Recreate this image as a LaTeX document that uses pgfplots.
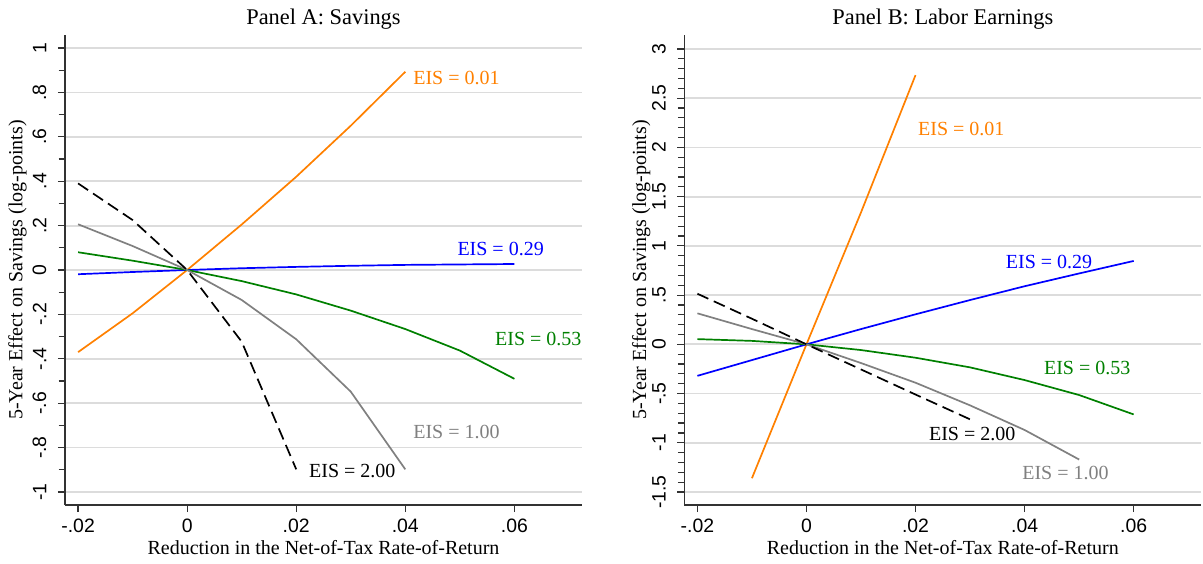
\documentclass[border=0pt]{standalone}
\usepackage{fontspec}
\setmainfont{Liberation Serif}
\newfontfamily\ticksf{Liberation Sans}
\usepackage{pgfplots}
\pgfplotsset{compat=1.18}

\definecolor{cOrange}{RGB}{255,128,0}
\definecolor{cBlue}{RGB}{0,0,255}
\definecolor{cGreen}{RGB}{0,128,0}
\definecolor{cGray}{RGB}{128,128,128}
\definecolor{cGrid}{RGB}{220,220,220}
\definecolor{cAxis}{RGB}{50,50,50}

\tikzset{lbl/.style={anchor=west, inner sep=0pt, font=\fontsize{10}{12}\selectfont}}

\pgfplotsset{
  statapanel/.style={
    scale only axis,
    width=258.5pt, height=235pt,
    xmin=-0.0224, xmax=0.0724,
    axis x line*=bottom, axis y line*=left,
    axis line style={cAxis, line width=0.6pt},
    tick style={cAxis, line width=0.6pt},
    tick align=outside,
    major tick length=3.6pt, minor tick length=3.2pt,
    xtick={-0.02,0,0.02,0.04,0.06},
    xticklabels={-.02,0,.02,.04,.06},
    scaled x ticks=false, scaled y ticks=false,
    ymajorgrids,
    major grid style={cGrid, line width=0.9pt},
    ticklabel style={font=\ticksf\fontsize{9.7}{11}\selectfont},
    yticklabel style={rotate=90, anchor=south, inner sep=0pt},
    xticklabel style={anchor=north, inner sep=0pt},
    xticklabel shift=3pt,
    yticklabel shift=5.5pt,
    every axis title shift=0pt,
    title style={font=\fontsize{11.2}{13}\selectfont, at={(0.5,1)}, anchor=base, yshift=5pt},
    xlabel={Reduction in the Net-of-Tax Rate-of-Return},
    ylabel={5-Year Effect on Savings (log-points)},
    label style={font=\fontsize{10}{12}\selectfont},
    xlabel style={at={([yshift=-24.5pt]axis description cs:0.5,0)}, anchor=base},
    clip=false,
    every axis plot/.append style={line width=0.85pt, mark=none},
  }
}

\begin{document}
\begin{tikzpicture}
% Panel A
\begin{axis}[statapanel,
  title={Panel A: Savings},
  ymin=-1.0586, ymax=1.0586,
  ytick={-1,-0.8,-0.6,-0.4,-0.2,0,0.2,0.4,0.6,0.8,1},
  yticklabels={-1,-.8,-.6,-.4,-.2,0,.2,.4,.6,.8,1},
  minor y tick num=1,
  ylabel style={at={([xshift=-23.75pt]axis description cs:0,0.5)}, rotate=0, anchor=center},
]
\addplot[cOrange] coordinates {(-0.02,-0.37) (-0.01,-0.195) (0,0) (0.01,0.205) (0.02,0.42) (0.03,0.65) (0.04,0.893)};
\addplot[cBlue] coordinates {(-0.02,-0.019) (-0.01,-0.009) (0,0) (0.01,0.008) (0.02,0.014) (0.03,0.019) (0.04,0.023) (0.05,0.025) (0.06,0.027)};
\addplot[cGreen] coordinates {(-0.02,0.08) (-0.01,0.042) (0,0) (0.01,-0.05) (0.02,-0.11) (0.03,-0.183) (0.04,-0.266) (0.05,-0.363) (0.06,-0.49)};
\addplot[cGray] coordinates {(-0.02,0.206) (-0.01,0.108) (0,0) (0.01,-0.135) (0.02,-0.312) (0.03,-0.548) (0.04,-0.898)};
\addplot[black, dash pattern=on 6pt off 3pt] coordinates {(-0.02,0.39) (-0.01,0.225) (0,0) (0.01,-0.323) (0.02,-0.898)};
\node[lbl, cOrange] at (axis cs:0.0414,0.864) {EIS = 0.01};
\node[lbl, cBlue] at (axis cs:0.0495,0.095) {EIS = 0.29};
\node[lbl, cGreen] at (axis cs:0.0564,-0.311) {EIS = 0.53};
\node[lbl, cGray] at (axis cs:0.0414,-0.728) {EIS = 1.00};
\node[lbl, black] at (axis cs:0.0223,-0.904) {EIS = 2.00};
\end{axis}

% Panel B
\begin{axis}[statapanel, at={(309.65pt,0)},
  title={Panel B: Labor Earnings},
  ymin=-1.632, ymax=3.142,
  ytick={-1.5,-1,-0.5,0,0.5,1,1.5,2,2.5,3},
  yticklabels={-1.5,-1,-.5,0,.5,1,1.5,2,2.5,3},
  minor y tick num=4,
  ylabel style={at={([xshift=-21.5pt]axis description cs:0,0.5)}, rotate=0, anchor=center},
]
\addplot[cOrange] coordinates {(-0.01,-1.36) (0,0) (0.01,1.34) (0.02,2.735)};
\addplot[cBlue] coordinates {(-0.02,-0.32) (-0.01,-0.16) (0,0) (0.01,0.155) (0.02,0.305) (0.03,0.45) (0.04,0.59) (0.05,0.72) (0.06,0.847)};
\addplot[cGreen] coordinates {(-0.02,0.053) (-0.01,0.035) (0,0) (0.01,-0.058) (0.02,-0.136) (0.03,-0.234) (0.04,-0.363) (0.05,-0.515) (0.06,-0.712)};
\addplot[cGray] coordinates {(-0.02,0.315) (-0.01,0.155) (0,0) (0.01,-0.19) (0.02,-0.39) (0.03,-0.62) (0.04,-0.87) (0.05,-1.17)};
\addplot[black, dash pattern=on 6pt off 3pt] coordinates {(-0.02,0.514) (-0.01,0.26) (0,0) (0.01,-0.255) (0.02,-0.51) (0.03,-0.762)};
\node[lbl, cOrange] at (axis cs:0.0204,2.185) {EIS = 0.01};
\node[lbl, cBlue] at (axis cs:0.0365,0.833) {EIS = 0.29};
\node[lbl, cGreen] at (axis cs:0.0435,-0.244) {EIS = 0.53};
\node[lbl, black] at (axis cs:0.0224,-0.915) {EIS = 2.00};
\node[lbl, cGray] at (axis cs:0.0395,-1.311) {EIS = 1.00};
\end{axis}

\pgfresetboundingbox
\path[use as bounding box] (-32.5pt,-29pt) rectangle (569pt,252.5pt);
\end{tikzpicture}
\end{document}
